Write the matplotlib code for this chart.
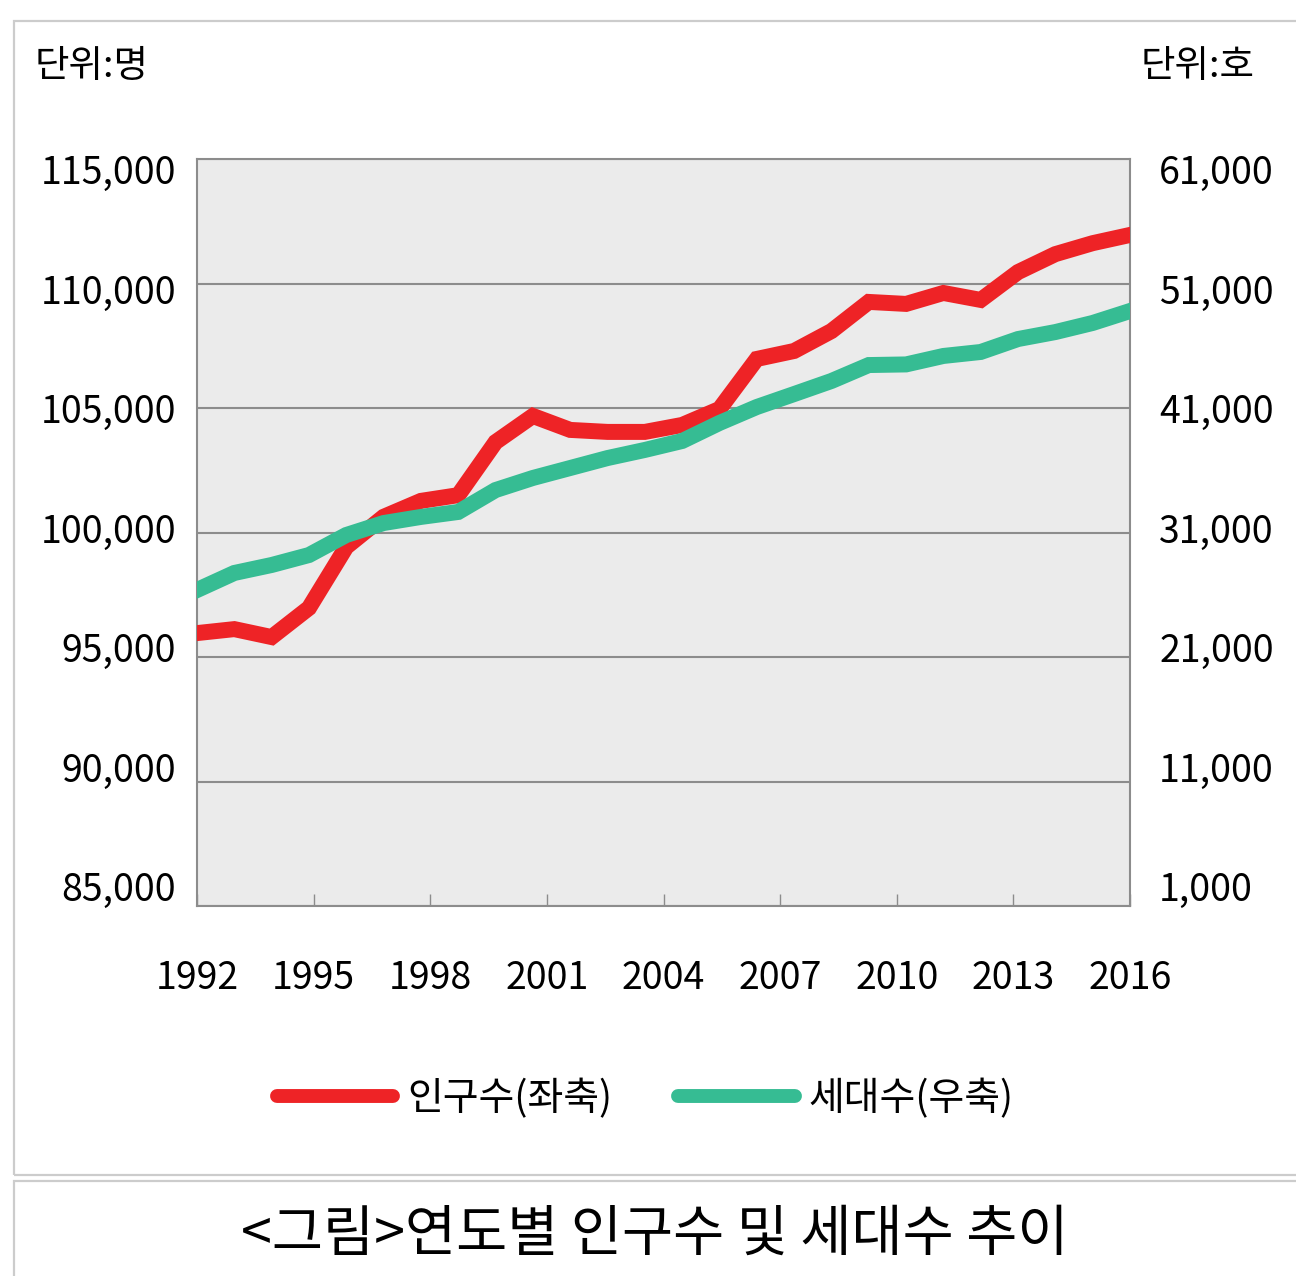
import numpy as np
import matplotlib
matplotlib.use("Agg")
import matplotlib.pyplot as plt
from matplotlib.lines import Line2D
from matplotlib.patches import Rectangle
from matplotlib.transforms import ScaledTranslation

plt.rcParams['font.family'] = ['Noto Sans CJK KR', 'DejaVu Sans']

# 26 evenly spaced points between 1992 and 2016, as drawn in the source chart
n_points = 26
population = [95960, 96120, 95800, 96970, 99420, 100630, 101270, 101500,
              103630, 104680, 104120, 104040, 104040, 104320, 104960, 106970,
              107290, 108090, 109260, 109180, 109620, 109340, 110460, 111180,
              111620, 111950]
households = [26380, 27750, 28390, 29190, 30800, 31760, 32250, 32650,
              34410, 35380, 36180, 36980, 37630, 38350, 39800, 41080,
              42120, 43170, 44450, 44500, 45180, 45500, 46540, 47100,
              47830, 48790]
year_ticks = [1992, 1995, 1998, 2001, 2004, 2007, 2010, 2013, 2016]
left_ticks = [85000, 90000, 95000, 100000, 105000, 110000, 115000]
right_ticks = [1000, 11000, 21000, 31000, 41000, 51000, 61000]
labels = ['인구수(좌축)', '세대수(우축)']

red = '#ee2326'
green = '#36bc93'
grid_gray = '#8c8c8c'
fs = 27

xs = np.linspace(1992, 2016, n_points)

fig = plt.figure(figsize=(12.96, 12.76), dpi=100)

# light frames around chart panel and caption box
fig.patches.append(Rectangle((14 / 1296, 1 - 1175 / 1276), 1.0, (1175 - 21) / 1276,
                             transform=fig.transFigure, fill=False,
                             edgecolor='#cccccc', linewidth=1.6))
fig.patches.append(Rectangle((14 / 1296, -0.05), 1.0, 0.05 + (1276 - 1181) / 1276,
                             transform=fig.transFigure, fill=False,
                             edgecolor='#cccccc', linewidth=1.6))

ax = fig.add_axes([197 / 1296, 1 - 906 / 1276, (1130 - 197) / 1296, (906 - 159) / 1276])
ax.set_facecolor('#ebebeb')
ax.plot(xs, population, color=red, linewidth=11.5, solid_joinstyle='miter', zorder=3)
ax.set_xlim(1992, 2016)
ax.set_ylim(85000, 115000)
ax.set_yticks(left_ticks)
ax.set_yticklabels([f'{v:,}' for v in left_ticks])
ax.set_xticks(year_ticks)
ax.set_xticklabels([str(y) for y in year_ticks])
ax.grid(axis='y', color=grid_gray, linewidth=1.5, zorder=1)
ax.set_axisbelow(True)
ax.tick_params(axis='y', length=0, pad=15, labelsize=fs)
ax.tick_params(axis='x', direction='in', length=9, width=1, color=grid_gray,
               pad=38, labelsize=fs)
for sp in ax.spines.values():
    sp.set_color(grid_gray)
    sp.set_linewidth(1.5)

ax2 = ax.twinx()
ax2.plot(xs, households, color=green, linewidth=11.5, solid_joinstyle='miter', zorder=3)
ax2.set_ylim(1000, 61000)
ax2.set_yticks(right_ticks)
ax2.set_yticklabels([f'{v:,}' for v in right_ticks])
ax2.tick_params(axis='y', length=0, pad=21, labelsize=fs)
for sp in ax2.spines.values():
    sp.set_visible(False)

# value labels in the source sit on a slightly tighter pitch than the grid
for axis in (ax, ax2):
    for i, lab in enumerate(axis.get_yticklabels()):
        dy = (20 - i * 5) / 100.0
        lab.set_transform(lab.get_transform() + ScaledTranslation(0, dy, fig.dpi_scale_trans))

# unit labels
fig.text(35 / 1296, 1 - 67 / 1276, '단위:명', fontsize=fs, ha='left', va='center')
fig.text(1255 / 1296, 1 - 67 / 1276, '단위:호', fontsize=fs, ha='right', va='center')

# legend
handles = [Line2D([], [], color=red, linewidth=10, solid_capstyle='round'),
           Line2D([], [], color=green, linewidth=10, solid_capstyle='round')]
fig.legend(handles, labels, loc='center', bbox_to_anchor=(645 / 1296, 1 - 1099 / 1276),
           ncol=2, frameon=False, fontsize=28, handlelength=3.0,
           handletextpad=0.35, columnspacing=1.7)

# caption
fig.text(655 / 1296, 1 - 1235 / 1276, '<그림>연도별 인구수 및 세대수 추이',
         fontsize=40, fontweight='medium', ha='center', va='center')

fig.savefig('out.png', dpi=100)
